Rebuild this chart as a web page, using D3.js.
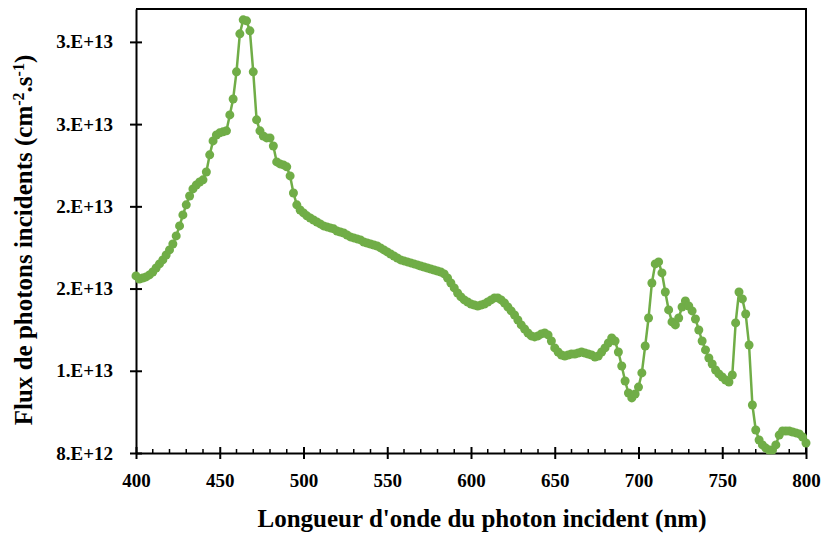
<!DOCTYPE html>
<html>
<head>
<meta charset="utf-8">
<script src="https://cdn.jsdelivr.net/npm/d3@7"></script>
<style>
  html, body { margin: 0; padding: 0; background: #fff; }
  svg { display: block; }
  text { font-family: "Liberation Serif", "Times New Roman", serif; font-weight: bold; fill: #000; }
</style>
</head>
<body>
<svg id="chart" width="822" height="533"></svg>
<script>
// Wavelengths (nm), 2 nm step
const wavelengths = d3.range(400, 801, 2);
// Incident photon flux (cm^-2.s^-1)
const flux = [
  1.877e13, 1.858e13, 1.864e13, 1.871e13, 1.883e13, 1.901e13, 1.925e13, 1.950e13, 1.974e13, 2.004e13,
  2.035e13, 2.071e13, 2.120e13, 2.181e13, 2.248e13, 2.309e13, 2.363e13, 2.406e13, 2.430e13, 2.448e13,
  2.461e13, 2.509e13, 2.613e13, 2.698e13, 2.734e13, 2.747e13, 2.753e13, 2.759e13, 2.856e13, 2.953e13,
  3.118e13, 3.349e13, 3.434e13, 3.428e13, 3.367e13, 3.118e13, 2.826e13, 2.759e13, 2.728e13, 2.716e13,
  2.716e13, 2.667e13, 2.570e13, 2.558e13, 2.552e13, 2.540e13, 2.485e13, 2.381e13, 2.309e13, 2.278e13,
  2.260e13, 2.242e13, 2.229e13, 2.217e13, 2.205e13, 2.193e13, 2.181e13, 2.175e13, 2.169e13, 2.163e13,
  2.150e13, 2.144e13, 2.138e13, 2.126e13, 2.114e13, 2.108e13, 2.102e13, 2.096e13, 2.083e13, 2.077e13,
  2.071e13, 2.065e13, 2.059e13, 2.047e13, 2.035e13, 2.023e13, 2.010e13, 1.998e13, 1.986e13, 1.974e13,
  1.968e13, 1.962e13, 1.956e13, 1.950e13, 1.944e13, 1.937e13, 1.931e13, 1.925e13, 1.919e13, 1.913e13,
  1.907e13, 1.901e13, 1.889e13, 1.864e13, 1.834e13, 1.804e13, 1.773e13, 1.749e13, 1.731e13, 1.718e13,
  1.706e13, 1.700e13, 1.694e13, 1.700e13, 1.706e13, 1.718e13, 1.731e13, 1.743e13, 1.743e13, 1.731e13,
  1.712e13, 1.688e13, 1.664e13, 1.639e13, 1.609e13, 1.579e13, 1.554e13, 1.530e13, 1.512e13, 1.506e13,
  1.512e13, 1.524e13, 1.530e13, 1.518e13, 1.481e13, 1.439e13, 1.414e13, 1.396e13, 1.390e13, 1.396e13,
  1.402e13, 1.402e13, 1.408e13, 1.414e13, 1.408e13, 1.402e13, 1.396e13, 1.384e13, 1.390e13, 1.414e13,
  1.439e13, 1.469e13, 1.500e13, 1.481e13, 1.414e13, 1.329e13, 1.238e13, 1.165e13, 1.135e13, 1.159e13,
  1.201e13, 1.287e13, 1.451e13, 1.621e13, 1.834e13, 1.950e13, 1.962e13, 1.895e13, 1.779e13, 1.670e13,
  1.597e13, 1.579e13, 1.621e13, 1.688e13, 1.725e13, 1.694e13, 1.664e13, 1.615e13, 1.548e13, 1.481e13,
  1.427e13, 1.378e13, 1.341e13, 1.305e13, 1.281e13, 1.262e13, 1.244e13, 1.232e13, 1.274e13, 1.591e13,
  1.779e13, 1.737e13, 1.645e13, 1.457e13, 1.092e13, 0.940e13, 0.879e13, 0.849e13, 0.830e13, 0.818e13,
  0.818e13, 0.849e13, 0.909e13, 0.934e13, 0.934e13, 0.934e13, 0.928e13, 0.922e13, 0.916e13, 0.897e13,
  0.861e13
];
const xTicks = [400, 450, 500, 550, 600, 650, 700, 750, 800];
const xMinorTicks = d3.range(400, 801, 10);
const yTicks = [8e12, 1.3e13, 1.8e13, 2.3e13, 2.8e13, 3.3e13];
const xTitle = "Longueur d'onde du photon incident (nm)";

(function () {
const data = wavelengths.map((w, i) => ({ x: w, y: flux[i] }));

const svg = d3.select("#chart");
const mL = 136, mR = 806, mT = 9, mB = 453;

const x = d3.scaleLinear().domain([400, 800]).range([mL, mR]);
const y = d3.scaleLinear().domain([8e12, 3.5e13]).range([mB, mT]);

const fmtY = v => {
  const s = v.toExponential(0); // e.g. "3e+13"
  const [m, e] = s.split("e");
  return m + ".E" + e.toUpperCase();
};

// frame (top & right)
svg.append("path")
  .attr("d", `M${mL},${mT}H${mR}V${mB}`)
  .attr("fill", "none").attr("stroke", "#000").attr("stroke-width", 2);

// x axis minor ticks (inside)
svg.append("g").selectAll("line").data(xMinorTicks.filter(v => v % 50 !== 0)).join("line")
  .attr("x1", d => x(d)).attr("x2", d => x(d))
  .attr("y1", mB).attr("y2", mB - 4)
  .attr("stroke", "#000").attr("stroke-width", 1.5);

const xAxis = svg.append("g").attr("transform", `translate(0,${mB})`)
  .call(d3.axisBottom(x).tickValues(xTicks).tickSize(6).tickSizeOuter(0).tickPadding(15).tickFormat(d3.format("d")));
xAxis.select(".domain").attr("stroke-width", 2).attr("stroke", "#000");
xAxis.selectAll(".tick line").attr("y1", -6).attr("stroke-width", 2);
xAxis.selectAll(".tick text")
  .style("font-family", '"Liberation Serif", serif').style("font-weight", "bold")
  .style("font-size", "19px").attr("fill", "#000");

const yAxis = svg.append("g").attr("transform", `translate(${mL},0)`)
  .call(d3.axisLeft(y).tickValues(yTicks).tickSize(6).tickSizeOuter(0).tickPadding(17).tickFormat(fmtY));
yAxis.select(".domain").attr("stroke-width", 2).attr("stroke", "#000");
yAxis.selectAll(".tick line").attr("x1", 6).attr("x2", -6).attr("stroke-width", 2);
yAxis.selectAll(".tick text")
  .style("font-family", '"Liberation Serif", serif').style("font-weight", "bold")
  .style("font-size", "19px").attr("fill", "#000");

const green = "#70AD47";
svg.append("path").datum(data)
  .attr("fill", "none").attr("stroke", green).attr("stroke-width", 2.5)
  .attr("stroke-linejoin", "round")
  .attr("d", d3.line().x(d => x(d.x)).y(d => y(d.y)));
svg.append("g").selectAll("circle").data(data).join("circle")
  .attr("cx", d => x(d.x)).attr("cy", d => y(d.y)).attr("r", 4.5)
  .attr("fill", green);

svg.append("text")
  .attr("x", 482).attr("y", 527).attr("text-anchor", "middle")
  .style("font-size", "25px").text(xTitle);

const yt = svg.append("text")
  .attr("transform", "translate(32,240) rotate(-90)")
  .attr("text-anchor", "middle").style("font-size", "25px");
yt.append("tspan").text("Flux de photons incidents (cm");
yt.append("tspan").attr("baseline-shift", "super").style("font-size", "16px").text("-2");
yt.append("tspan").text(".s");
yt.append("tspan").attr("baseline-shift", "super").style("font-size", "16px").text("-1");
yt.append("tspan").text(")");
})();
</script>
</body>
</html>
